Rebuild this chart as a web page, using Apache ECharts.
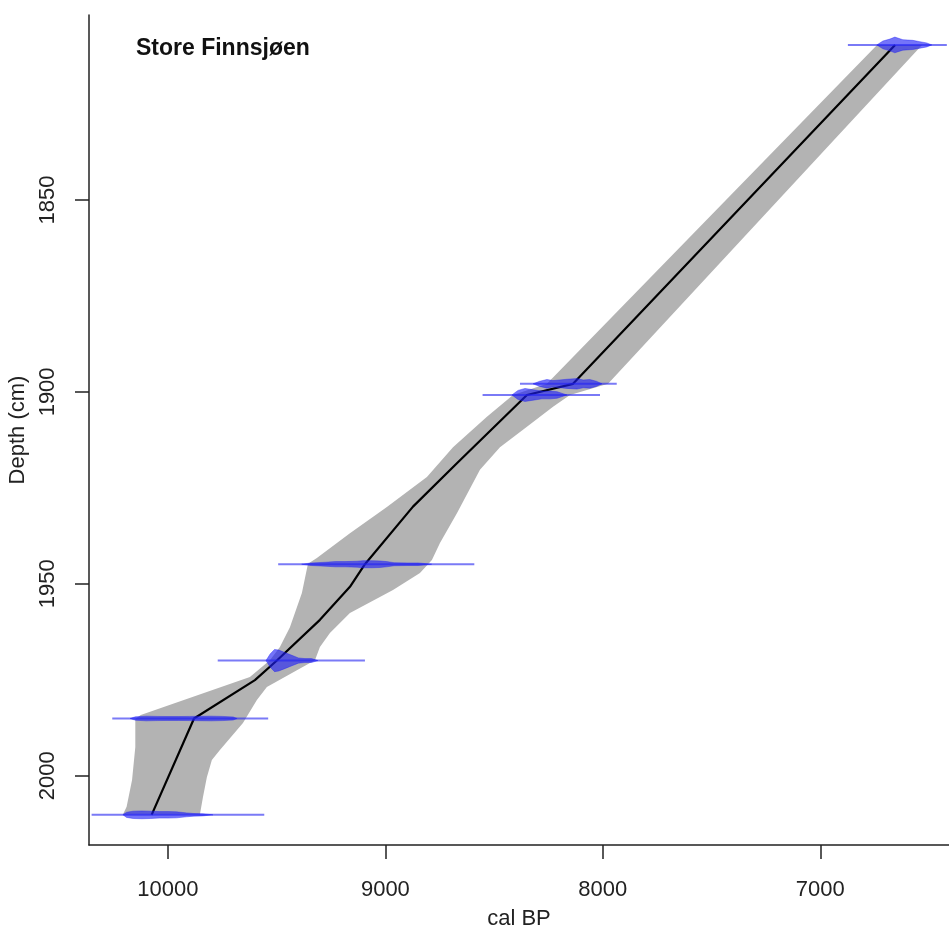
<!DOCTYPE html>
<html>
<head>
<meta charset="utf-8">
<script src="https://cdn.jsdelivr.net/npm/echarts@6/dist/echarts.min.js"></script>
<style>
  html, body { margin: 0; padding: 0; background: #fff; }
  #chart { width: 949px; height: 927px; }
</style>
</head>
<body>
<div id="chart"></div>
<script>
// ---- Axis ticks ----
const xTicks = [10000, 9000, 8000, 7000];
const yTicks = [1850, 1900, 1950, 2000];

// ---- Age-depth model: mean line ----
const meanDepth = [1809.6, 1897.9, 1900.8, 1918.6, 1929.9, 1944.9, 1950.8, 1959.4, 1970.0, 1975.1, 1985.1, 2010.2];
const meanAge   = [6656, 8137, 8349, 8671, 8873, 9094, 9163, 9301, 9499, 9600, 9880, 10075];

// ---- 95% range: older boundary ----
const oldDepth = [1809.6, 1897.9, 1900.8, 1906.5, 1914.4, 1922.2, 1930.0, 1936.8, 1943.3, 1944.8, 1952.4, 1961.3, 1966.5, 1969.9, 1974.3, 1984.2, 1985.2, 1992.5, 2001.1, 2008.1, 2010.1];
const oldAge   = [6739, 8257, 8413, 8533, 8689, 8809, 8993, 9163, 9315, 9356, 9384, 9439, 9485, 9531, 9623, 10125, 10150, 10150, 10165, 10190, 10207];

// ---- 95% range: younger boundary ----
const youngDepth = [1809.6, 1897.9, 1900.8, 1903.9, 1909.1, 1914.4, 1920.3, 1931.6, 1939.4, 1943.8, 1947.2, 1951.6, 1957.6, 1962.8, 1966.5, 1969.9, 1972.5, 1976.9, 1980.3, 1986.3, 1993.3, 1995.9, 2000.4, 2005.6, 2010.1];
const youngAge   = [6532, 7976, 8151, 8229, 8349, 8473, 8565, 8671, 8749, 8786, 8841, 8965, 9163, 9255, 9301, 9324, 9407, 9545, 9591, 9655, 9761, 9798, 9821, 9839, 9853];

// ---- Dated levels ----
const dateDepth  = [1809.6, 1897.9, 1900.8, 1944.9, 1970.0, 1985.1, 2010.2];
const dateRangeOld   = [6873, 8381, 8553, 9493, 9771, 10256, 10351];
const dateRangeYoung = [6418, 7936, 8013, 8591, 9094, 9539, 9557];

// ---- Calibrated distributions (age, relative probability) ----
const dist1Age  = [6740, 6712, 6680, 6657, 6620, 6574, 6542, 6510, 6487];
const dist1Prob = [0, 3, 4.5, 6, 4, 3.5, 2.5, 1.5, 0];
const dist2Age  = [8321, 8290, 8257, 8230, 8197, 8165, 8119, 8090, 8060, 8030, 8004];
const dist2Prob = [0, 2, 3.3, 2.5, 3, 3.5, 4, 3, 3.3, 2, 0];
const dist3Age  = [8418, 8390, 8358, 8320, 8280, 8240, 8210, 8165];
const dist3Prob = [0, 3.5, 5, 4, 3, 3, 2.5, 0];
const dist4Age  = [9385, 9340, 9278, 9230, 9186, 9130, 9103, 9060, 9025, 8994, 8960, 8900, 8850, 8787];
const dist4Prob = [0, 1, 1.5, 2, 2, 2.3, 2.7, 2.7, 2.5, 2, 1.2, 1, 1, 0];
const dist5Age  = [9549, 9530, 9510, 9490, 9460, 9430, 9400, 9370, 9340, 9310];
const dist5Prob = [0, 5, 8.5, 8, 6, 4, 2, 1.5, 1.5, 0];
const dist6Age  = [10174, 10150, 10100, 10050, 10000, 9950, 9900, 9850, 9800, 9750, 9700, 9682];
const dist6Prob = [0, 1.3, 1.8, 1.6, 1.5, 1.5, 1.6, 1.7, 1.8, 1.6, 1.2, 0];
const dist7Age  = [10207, 10190, 10160, 10120, 10080, 10040, 10000, 9960, 9914, 9880, 9840, 9793];
const dist7Prob = [0, 2, 2.8, 3, 2.8, 2.5, 2.5, 2.3, 1.5, 1, 0.8, 0];

const distAges  = [dist1Age, dist2Age, dist3Age, dist4Age, dist5Age, dist6Age, dist7Age];
const distProbs = [dist1Prob, dist2Prob, dist3Prob, dist4Prob, dist5Prob, dist6Prob, dist7Prob];

// style: how many depth units one probability unit spans
const PROB_SCALE = 0.34;

const FONT = '"Liberation Sans", Arial, Helvetica, sans-serif';

const chart = echarts.init(document.getElementById('chart'), null, { renderer: 'canvas' });

const bandData = oldAge.map((a, i) => [a, oldDepth[i]])
  .concat(youngAge.map((a, i) => [a, youngDepth[i]]).reverse());

const plain = v => String(v);

const option = {
  animation: false,
  backgroundColor: '#ffffff',
  title: {
    text: 'Store Finnsjøen',
    left: 131,
    top: 32,
    textStyle: { fontFamily: FONT, fontSize: 23, fontWeight: 'bold', color: '#111' }
  },
  grid: { left: 89, right: 0, top: 15, bottom: 82, containLabel: false, outerBoundsMode: 'none' },
  xAxis: {
    type: 'value',
    min: 6408,
    max: 10363,
    inverse: true,
    name: 'cal BP',
    nameLocation: 'middle',
    nameGap: 63,
    nameTextStyle: { fontFamily: FONT, fontSize: 22, color: '#222' },
    axisLine: { show: true, onZero: false, lineStyle: { color: '#222', width: 1.5 } },
    axisTick: { show: true, length: 14, customValues: xTicks, lineStyle: { color: '#222', width: 1.5 } },
    axisLabel: { customValues: xTicks, formatter: plain, margin: 34, fontFamily: FONT, fontSize: 22, color: '#222' },
    splitLine: { show: false }
  },
  yAxis: {
    type: 'value',
    min: 1801.8,
    max: 2018.06,
    inverse: true,
    name: 'Depth (cm)',
    nameLocation: 'middle',
    nameGap: 53,
    nameTextStyle: { fontFamily: FONT, fontSize: 22, color: '#222' },
    axisLine: { show: true, onZero: false, lineStyle: { color: '#222', width: 1.5 } },
    axisTick: { show: true, length: 14, customValues: yTicks, lineStyle: { color: '#222', width: 1.5 } },
    axisLabel: { customValues: yTicks, formatter: plain, rotate: 90, margin: 30, fontFamily: FONT, fontSize: 22, color: '#222' },
    splitLine: { show: false }
  },
  series: [
    {
      type: 'custom',
      name: 'range',
      coordinateSystem: 'cartesian2d',
      z: 1,
      silent: true,
      data: bandData,
      renderItem: function (params, api) {
        if (params.dataIndex !== 0) return null;
        const pts = bandData.map(p => api.coord(p));
        return { type: 'polygon', shape: { points: pts }, style: { fill: '#b3b3b3', stroke: null } };
      }
    },
    {
      type: 'line',
      name: 'mean',
      z: 2,
      silent: true,
      showSymbol: false,
      symbol: 'none',
      data: meanAge.map((a, i) => [a, meanDepth[i]]),
      lineStyle: { color: '#000', width: 2.2 }
    },
    {
      type: 'custom',
      name: 'dates',
      coordinateSystem: 'cartesian2d',
      z: 3,
      silent: true,
      data: dateDepth.map((d, i) => [dateRangeOld[i], d]),
      renderItem: function (params, api) {
        const i = params.dataIndex;
        const d = dateDepth[i];
        const p0 = api.coord([dateRangeOld[i], d]);
        const p1 = api.coord([dateRangeYoung[i], d]);
        const ages = distAges[i], probs = distProbs[i];
        const upper = ages.map((a, k) => api.coord([a, d - probs[k] * PROB_SCALE]));
        const lower = ages.map((a, k) => api.coord([a, d + probs[k] * PROB_SCALE])).reverse();
        return {
          type: 'group',
          children: [
            { type: 'line', shape: { x1: p0[0], y1: p0[1], x2: p1[0], y2: p1[1] },
              style: { stroke: 'rgba(40,40,240,0.62)', lineWidth: 2 } },
            { type: 'polygon', shape: { points: upper.concat(lower) },
              style: { fill: 'rgba(30,30,245,0.62)', stroke: 'rgba(30,30,245,0.5)', lineWidth: 0.8 } }
          ]
        };
      }
    }
  ]
};

chart.setOption(option);
</script>
</body>
</html>
